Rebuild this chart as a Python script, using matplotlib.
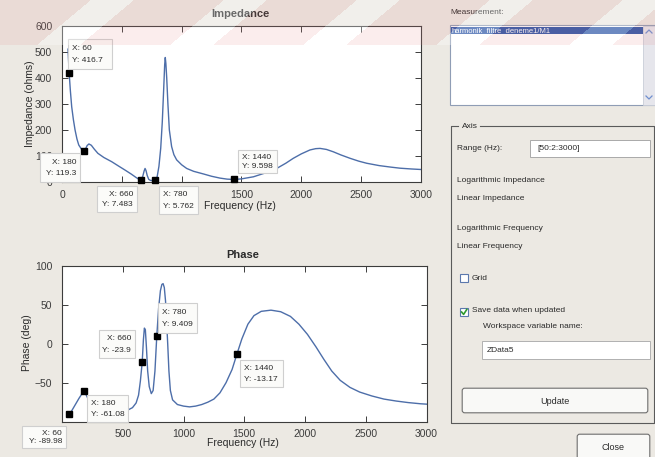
import numpy as np
import matplotlib
matplotlib.use("Agg")
import matplotlib.pyplot as plt
from matplotlib.patches import Rectangle, FancyBboxPatch

plt.rcParams['font.family'] = ['Liberation Sans', 'DejaVu Sans']

# ---- measured impedance magnitude (ohms) vs frequency (Hz) ----
freq_z = [50, 60, 70, 81, 95, 109, 125, 140, 160, 180,
          195, 210, 225, 245, 270, 300, 350, 415, 470, 526,
          580, 620, 645, 660, 675, 686, 694, 702, 712, 725,
          740, 760, 780, 795, 810, 825, 838, 850, 858, 863,
          868, 875, 885, 897, 916, 935, 958, 1000, 1042, 1100,
          1181, 1250, 1320, 1380, 1440, 1500, 1600, 1700, 1794, 1870,
          1933, 2000, 2072, 2120, 2156, 2210, 2267, 2330, 2407, 2480,
          2546, 2650, 2750, 2825, 2920, 3000]
impedance = [510, 416.7, 350, 289, 240, 200, 165, 142, 128, 119.3,
             125, 140, 146, 141, 126, 110, 94, 78, 62, 46,
             30, 17, 10, 7.483, 22, 42, 52, 44, 25, 10,
             6, 5.5, 5.762, 20, 60, 130, 230, 360, 450, 478,
             455, 400, 300, 200, 136, 105, 85, 66, 52, 41,
             31, 22, 15, 11, 9.598, 12, 20, 35, 52, 72,
             91, 108, 123, 128, 129, 125, 116, 104, 91, 80,
             72, 63, 57, 53, 50, 48]

# ---- measured phase (deg) vs frequency (Hz) ----
freq_p = [50, 60, 80, 110, 140, 165, 180, 200, 230, 280,
          350, 450, 530, 580, 610, 630, 645, 660, 670, 678,
          686, 695, 705, 718, 735, 750, 765, 780, 795, 810,
          822, 832, 842, 852, 862, 870, 880, 892, 910, 950,
          1000, 1050, 1100, 1150, 1200, 1250, 1300, 1350, 1400, 1440,
          1480, 1530, 1580, 1640, 1720, 1800, 1880, 1950, 2020, 2090,
          2155, 2220, 2290, 2370, 2450, 2550, 2650, 2750, 2850, 2950,
          3000]
phase = [-90, -89.98, -86, -78, -70, -64, -61.08, -66, -76, -83,
         -86, -87, -86, -82, -76, -66, -48, -23.9, 5, 20,
         18, -5, -35, -55, -64, -60, -35, 9.409, 45, 68,
         76, 77, 72, 55, 25, 0, -35, -60, -72, -78,
         -80, -81, -80, -78, -75, -71, -63, -50, -33, -13.17,
         6, 25, 36, 41.5, 43, 41, 35, 25, 12, -4,
         -20, -35, -47, -56, -62, -67, -71, -73.5, -75.5, -77,
         -77.5]

# ---- data cursors ----
tip_freq = [60, 180, 660, 780, 1440]
tip_z = [416.7, 119.3, 7.483, 5.762, 9.598]
tip_phase = [-89.98, -61.08, -23.9, 9.409, -13.17]

x_ticks = [0, 500, 1000, 1500, 2000, 2500, 3000]
z_ticks = [0, 100, 200, 300, 400, 500, 600]
p_ticks = [-50, 0, 50, 100]

BG = '#ece9e3'
LINE = '#4d6ea9'
W, H = 655, 457

fig = plt.figure(figsize=(W / 100, H / 100), dpi=100, facecolor=BG)


def px_axes(l, t, r, b, **kw):
    return fig.add_axes([l / W, 1 - b / H, (r - l) / W, (b - t) / H], **kw)


def style(ax):
    ax.set_facecolor('white')
    for s in ax.spines.values():
        s.set_color('#3c3c3c')
        s.set_linewidth(0.8)
    ax.tick_params(direction='in', length=4, width=0.7, top=True, right=True,
                   labelsize=7.5, colors='#3c3c3c')
    ax.tick_params(axis='x', pad=5.5)
    ax.tick_params(axis='y', pad=7)


ax1 = px_axes(62, 25.7, 421, 182)
style(ax1)
ax1.plot(freq_z, impedance, color=LINE, lw=1.0)
ax1.plot(tip_freq, tip_z, 's', color='black', ms=5, zorder=5, clip_on=False)
ax1.set_xlim(0, 3000)
ax1.set_ylim(0, 600)
ax1.set_xticks(x_ticks)
ax1.set_yticks(z_ticks)

ax2 = px_axes(62, 265.7, 426.5, 421.7)
style(ax2)
ax2.plot(freq_p, phase, color=LINE, lw=1.0)
ax2.plot(tip_freq, tip_phase, 's', color='black', ms=5, zorder=5, clip_on=False)
ax2.set_xlim(0, 3000)
ax2.set_ylim(-100, 100)
ax2.set_xticks(x_ticks)
ax2.set_yticks(p_ticks)

# ---- overlay in pixel coordinates for labels, cursors and the control panel ----
ov = fig.add_axes([0, 0, 1, 1], zorder=5)
ov.set_xlim(0, W)
ov.set_ylim(H, 0)
ov.axis('off')
ov.patch.set_alpha(0)

TXT = '#2a2a2a'


def label(x, y, s, size=7.5, **kw):
    kw.setdefault('ha', 'center')
    kw.setdefault('va', 'center')
    ov.text(x, y, s, fontsize=size, color=kw.pop('color', TXT), **kw)


label(240, 14, 'Impedance', size=8, weight='bold')
label(240, 206, 'Frequency (Hz)')
label(30, 104, 'Impedance (ohms)', rotation=90)
label(243, 255, 'Phase', size=8, weight='bold')
label(243, 443, 'Frequency (Hz)')
label(27, 343, 'Phase (deg)', rotation=90)


def tip(box, xval, yval, right):
    x0, y0, x1, y1 = box
    ov.add_patch(Rectangle((x0, y0), x1 - x0, y1 - y0, facecolor='#fbfbf9',
                           edgecolor='#cfcfcf', lw=0.8, zorder=4))
    tx = x1 - 4 if right else x0 + 4
    ha = 'right' if right else 'left'
    h = y1 - y0
    ov.text(tx, y0 + h * 0.32, f'X: {xval:g}', fontsize=6, ha=ha, va='center', color=TXT, zorder=5)
    ov.text(tx, y0 + h * 0.72, f'Y: {yval:g}', fontsize=6, ha=ha, va='center', color=TXT, zorder=5)


z_boxes = [(68, 39, 112, 69, False), (40, 153, 80, 182, True), (97, 186, 137, 212, True),
           (159, 186, 198, 214, False), (238, 150, 277, 173, False)]
p_boxes = [(22, 426, 66, 448, True), (87, 395, 128, 422, False), (99, 330, 135, 358, True),
           (158, 303, 197, 333, False), (240, 360, 283, 387, False)]
for (x0, y0, x1, y1, r), f, v in zip(z_boxes, tip_freq, tip_z):
    tip((x0, y0, x1, y1), f, v, r)
for (x0, y0, x1, y1, r), f, v in zip(p_boxes, tip_freq, tip_phase):
    tip((x0, y0, x1, y1), f, v, r)

# ---- control panel ----
G = 6
label(450, 12, 'Measurement:', size=G, ha='left')
ov.add_patch(Rectangle((450, 25), 205, 80, facecolor='white', edgecolor='#8f9db5', lw=0.8))
ov.add_patch(Rectangle((451, 26.5), 192, 7.5, facecolor='#2f57a8', edgecolor='none'))
label(452, 30.5, 'harmonik_filtre_deneme1/M1', size=5.5, ha='left', color='white')
ov.add_patch(Rectangle((643, 25.5), 12, 79, facecolor='#e6e6ec', edgecolor='#c9cdd8', lw=0.6))
ov.plot([646, 649, 652], [33, 30, 33], color='#6f8fcf', lw=0.9)
ov.plot([646, 649, 652], [96, 99, 96], color='#6f8fcf', lw=0.9)

FR = '#5a5a5a'
ov.plot([458, 451, 451, 654, 654, 480], [126, 126, 423, 423, 126, 126], color=FR, lw=0.8)
label(462, 126, 'Axis', size=G, ha='left')

label(457, 149, 'Range (Hz):', size=G, ha='left')
ov.add_patch(Rectangle((530, 140), 120, 17, facecolor='white', edgecolor='#a9a9a9', lw=0.7))
label(537, 148.5, '[50:2:3000]', size=G, ha='left')

label(457, 180, 'Logarithmic Impedance', size=G, ha='left')
label(457, 198, 'Linear Impedance', size=G, ha='left')
label(457, 229, 'Logarithmic Frequency', size=G, ha='left')
label(457, 247, 'Linear Frequency', size=G, ha='left')

ov.add_patch(Rectangle((460, 274), 8, 8, facecolor='white', edgecolor='#5b78ad', lw=0.8))
label(472, 278, 'Grid', size=G, ha='left')
ov.add_patch(Rectangle((460, 308), 8, 8, facecolor='white', edgecolor='#5b78ad', lw=0.8))
ov.plot([461.6, 463.6, 466.8], [312, 314.4, 309.4], color='#2f9a2f', lw=1.2)
label(472, 311, 'Save data when updated', size=G, ha='left')
label(483, 327, 'Workspace variable name:', size=G, ha='left')
ov.add_patch(Rectangle((482, 341), 168, 18, facecolor='white', edgecolor='#b0b0b0', lw=0.7))
label(487, 350, 'ZData5', size=G, ha='left')

ov.add_patch(FancyBboxPatch((463, 389), 184, 23, boxstyle='round,pad=0.8,rounding_size=2.5',
                            facecolor='#f9f9f7', edgecolor='#6e6e6e', lw=0.8))
label(555, 401, 'Update', size=6.5)
ov.add_patch(FancyBboxPatch((578, 435), 71, 30, boxstyle='round,pad=0.8,rounding_size=2.5',
                            facecolor='#f9f9f7', edgecolor='#6e6e6e', lw=0.8))
label(613, 447.5, 'Close', size=6.5)

# ---- faint pink diagonal stripe band across the top edge ----
bh = 45
yy, xx = np.mgrid[0:bh, 0:W]
u = np.mod(xx + 1.2 * yy, 133.0)
band = np.zeros((bh, W, 4))
pink = u < 90
band[..., :3] = np.where(pink[..., None], np.array([0.90, 0.55, 0.55]), np.array([1.0, 1.0, 1.0]))
band[..., 3] = np.where(pink, 0.15, 0.3)
fig.figimage(band, xo=0, yo=H - bh, origin='upper', zorder=10)

fig.savefig('out.png', dpi=100, facecolor=BG)
